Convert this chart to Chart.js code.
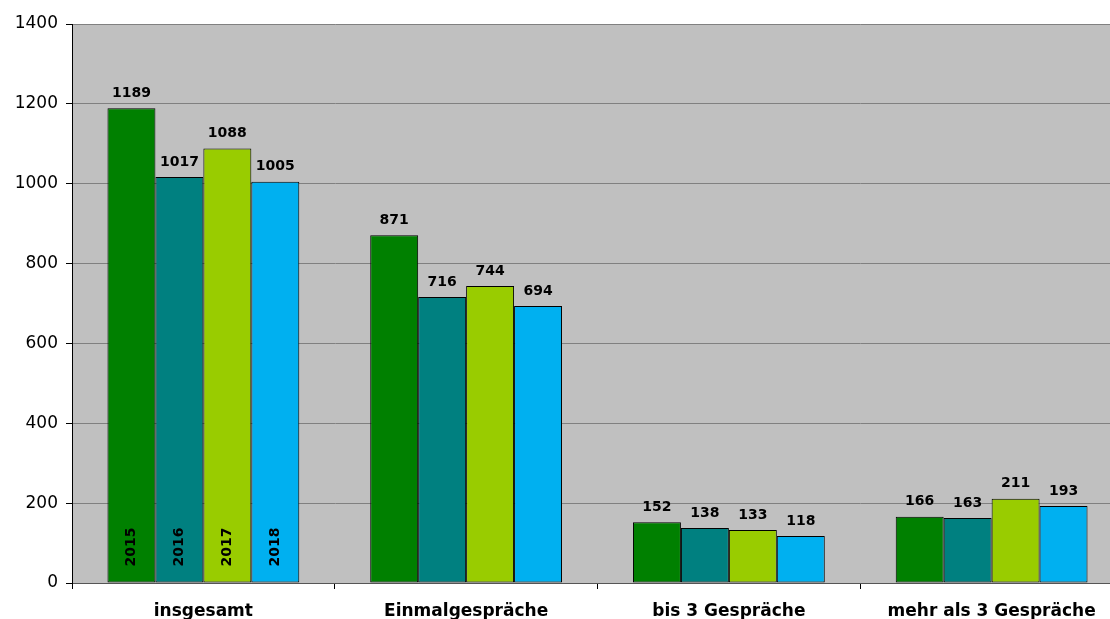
<!DOCTYPE html>
<html>
<head>
<meta charset="utf-8">
<script src="https://cdn.jsdelivr.net/npm/chart.js@4"></script>
<style>
  html, body { margin: 0; padding: 0; background: #fff; overflow: hidden; }
  #wrap { width: 1110px; height: 619px; overflow: hidden; }
</style>
</head>
<body>
<div id="wrap"><canvas id="myBarChart" width="1123" height="619"></canvas></div>
<script>
var categories = ['insgesamt', 'Einmalgespräche', 'bis 3 Gespräche', 'mehr als 3 Gespräche'];
var years = ['2015', '2016', '2017', '2018'];
var values2015 = [1189, 871, 152, 166];
var values2016 = [1017, 716, 138, 163];
var values2017 = [1088, 744, 133, 211];
var values2018 = [1005, 694, 118, 193];
var yearColors = ['#008000', '#008080', '#99CC00', '#00B0F0'];

var fontFamily = '"DejaVu Sans", sans-serif';

// gray plot background
var plotBg = {
    id: 'plotBg',
    beforeDraw: function (chart) {
        var a = chart.chartArea, ctx = chart.ctx;
        ctx.save();
        ctx.fillStyle = '#C0C0C0';
        ctx.fillRect(a.left, a.top, a.right - a.left, a.bottom - a.top);
        ctx.restore();
    }
};

// value labels above bars and year labels inside first group
var barLabels = {
    id: 'barLabels',
    afterDatasetsDraw: function (chart) {
        var ctx = chart.ctx;
        ctx.save();
        chart.data.datasets.forEach(function (ds, i) {
            var meta = chart.getDatasetMeta(i);
            meta.data.forEach(function (bar, j) {
                ctx.fillStyle = '#000';
                ctx.font = 'bold 14px ' + fontFamily;
                ctx.textAlign = 'center';
                ctx.textBaseline = 'bottom';
                ctx.fillText(ds.data[j], bar.x, bar.y - 8);
                if (j === 0) {
                    ctx.save();
                    ctx.translate(bar.x, bar.base - 16);
                    ctx.rotate(-Math.PI / 2);
                    ctx.textAlign = 'left';
                    ctx.textBaseline = 'middle';
                    ctx.fillText(ds.label, 0, 0);
                    ctx.restore();
                }
            });
        });
        ctx.restore();
    }
};

var seriesValues = [values2015, values2016, values2017, values2018];
var datasets = years.map(function (y, i) {
    return {
        label: y,
        data: seriesValues[i],
        backgroundColor: yearColors[i],
        borderColor: '#000',
        borderWidth: 1,
        borderSkipped: false,
        categoryPercentage: 0.73,
        barPercentage: 1.0
    };
});

var ctx = document.getElementById('myBarChart').getContext('2d');
var myBarChart = new Chart(ctx, {
    type: 'bar',
    data: { labels: categories, datasets: datasets },
    plugins: [plotBg, barLabels],
    options: {
        responsive: false,
        animation: false,
        layout: { padding: { top: 24, right: 0, left: 0, bottom: 0 } },
        plugins: { legend: { display: false }, tooltip: { enabled: false } },
        scales: {
            x: {
                grid: { display: true, drawOnChartArea: false, drawTicks: true, tickLength: 6, offset: true, color: '#000' },
                border: { color: '#555', width: 1 },
                ticks: { color: '#000', font: { family: fontFamily, size: 17, weight: 'bold' }, padding: 12 },
                afterFit: function (axis) { axis.height = 36; }
            },
            y: {
                min: 0,
                max: 1400,
                ticks: {
                    stepSize: 200, color: '#000', font: { family: fontFamily, size: 17 }, padding: 8,
                    callback: function (v) { return String(v); }
                },
                grid: { color: '#808080', lineWidth: 1, tickLength: 6, tickColor: '#000' },
                border: { color: '#000', width: 1 },
                afterFit: function (axis) { axis.width = 72; }
            }
        }
    }
});
</script>
</body>
</html>
